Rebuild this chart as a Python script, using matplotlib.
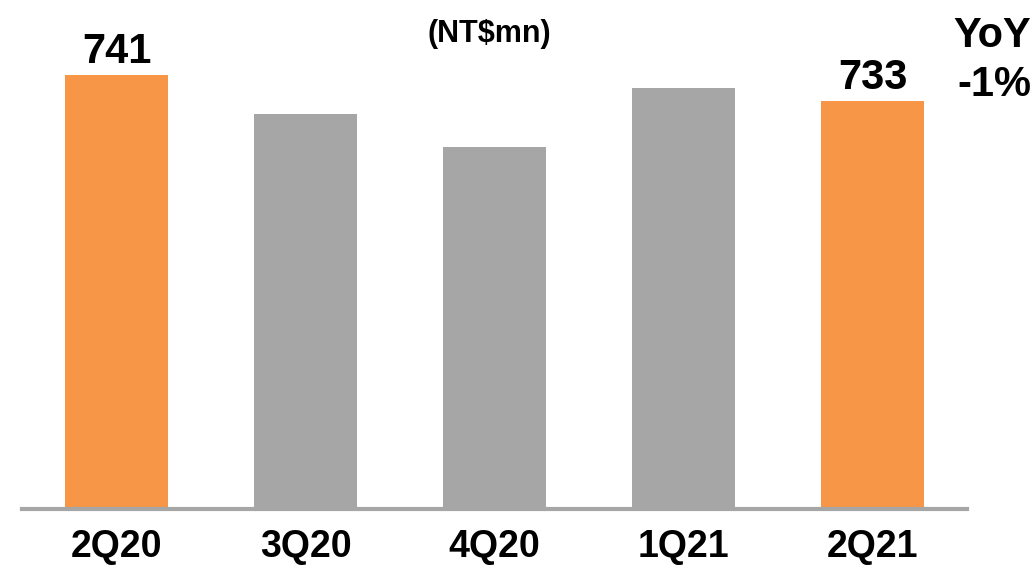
import matplotlib
matplotlib.use("Agg")
import matplotlib.pyplot as plt

categories = ["2Q20", "3Q20", "4Q20", "1Q21", "2Q21"]
values = [741, 729, 719, 737, 733]
bar_colors = ["#F79646", "#A6A6A6", "#A6A6A6", "#A6A6A6", "#F79646"]
value_labels = {0: "741", 4: "733"}
unit_text = "(NT$mn)"

W, H = 1036, 566
fig = plt.figure(figsize=(W / 100, H / 100), dpi=100)
ax = fig.add_axes([22 / W, 57 / H, 945 / W, 509 / H])

x = list(range(len(categories)))
ax.bar(x, values, width=0.55, color=bar_colors, zorder=1)
ax.set_xlim(-0.5, len(categories) - 0.5)
ax.set_ylim(608, 764)

for s in ["top", "right", "left"]:
    ax.spines[s].set_visible(False)
ax.spines["bottom"].set_color("#A6A6A6")
ax.spines["bottom"].set_linewidth(3)
ax.spines["bottom"].set_zorder(3)
ax.set_yticks([])
ax.set_xticks([])

label_font = ["Liberation Sans", "DejaVu Sans"]

for i, lab in value_labels.items():
    ax.annotate(lab, xy=(x[i], values[i]), xytext=(0, 9), textcoords="offset points",
                ha="center", va="baseline", fontsize=30, fontweight="bold",
                family=label_font, color="black")

for i, c in enumerate(categories):
    ax.annotate(c, xy=(x[i], 0), xycoords=("data", "axes fraction"),
                xytext=(0, -34.5), textcoords="offset points",
                ha="center", va="baseline", fontsize=27, fontweight="bold",
                family=label_font, color="black", annotation_clip=False)

fig.text(489 / W, 1 - 42 / H, unit_text, ha="center", va="baseline",
         fontsize=22, fontweight="bold", family=label_font)
fig.text(1031 / W, 1 - 47 / H, "YoY", ha="right", va="baseline",
         fontsize=30, fontweight="bold", family=label_font)
fig.text(1031 / W, 1 - 96 / H, "-1%", ha="right", va="baseline",
         fontsize=30, fontweight="bold", family=label_font)

fig.savefig("out.png", dpi=100)
